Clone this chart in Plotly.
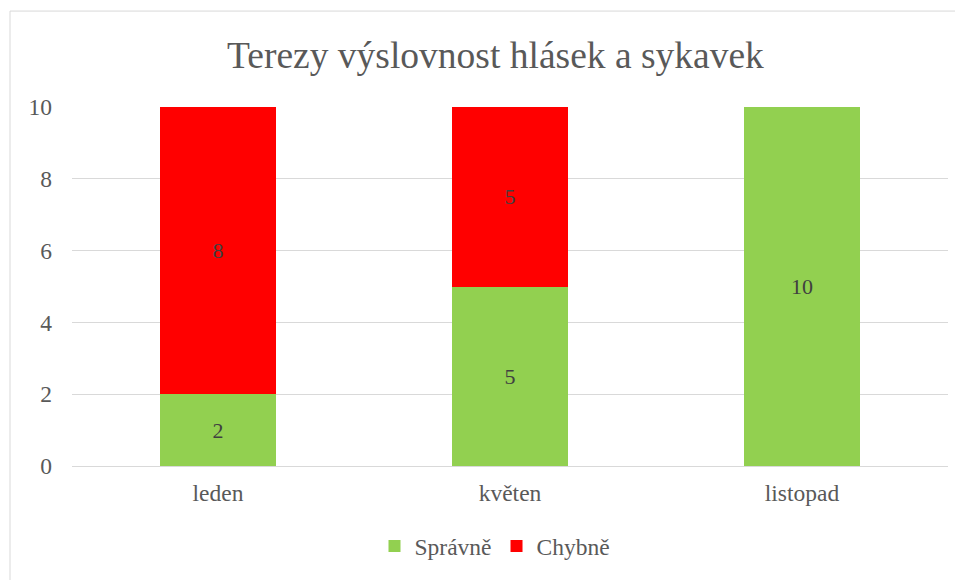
import plotly.graph_objects as go

categories = ["leden", "květen", "listopad"]
spravne = [2, 5, 10]
chybne = [8, 5, 0]
series_names = ["Správně", "Chybně"]
title_text = "Terezy výslovnost hlásek a sykavek"

OFF = 8  # page body margin
W, H = 963 - OFF, 580 - OFF
L, R, T, B = 72 - OFF, 15, 107 - OFF, 110
pw, ph = W - L - R, H - T - B

def px_x(x):
    return (x - OFF - L) / pw

def px_y(y):
    return (H - B - (y - OFF)) / ph

font_family = "Liberation Serif"
FS = 23.5

fig = go.Figure()
fig.add_trace(go.Bar(
    x=categories, y=spravne, name=series_names[0],
    marker=dict(color="#92D050", line=dict(width=0)),
    text=[str(v) if v else "" for v in spravne], textposition="inside",
    insidetextanchor="middle",
    textfont=dict(family=font_family, size=22, color="#404040"),
))
fig.add_trace(go.Bar(
    x=categories, y=chybne, name=series_names[1],
    marker=dict(color="#FF0000", line=dict(width=0)),
    text=[str(v) if v else "" for v in chybne], textposition="inside",
    insidetextanchor="middle",
    textfont=dict(family=font_family, size=22, color="#404040"),
))

fig.update_layout(
    width=W, height=H,
    margin=dict(l=L, r=R, t=T, b=B),
    barmode="stack", bargap=0.6,
    paper_bgcolor="white", plot_bgcolor="white",
    font=dict(family=font_family, size=FS, color="#595959"),
    uniformtext=dict(mode="show", minsize=10),
    showlegend=True,
    legend=dict(orientation="h", x=px_x(495), xanchor="center",
                y=px_y(551), yanchor="middle",
                font=dict(family=font_family, size=FS, color="#595959"),
                traceorder="normal", itemwidth=30),
    xaxis=dict(showgrid=False, showline=True, linecolor="#d9d9d9", linewidth=1,
               ticks="", ticklabelstandoff=6,
               tickfont=dict(family=font_family, size=FS, color="#595959")),
    yaxis=dict(range=[0, 10], dtick=2, showgrid=True, gridcolor="#d9d9d9",
               gridwidth=1, zeroline=False, showline=False, ticks="",
               ticklabelstandoff=19,
               tickfont=dict(family=font_family, size=FS, color="#595959")),
    annotations=[dict(text=title_text, xref="paper", yref="paper",
                      x=px_x(495), y=px_y(55), xanchor="center", yanchor="middle",
                      showarrow=False,
                      font=dict(family=font_family, size=37.5, color="#595959"))],
    shapes=[dict(type="rect", xref="paper", yref="paper",
                 x0=px_x(10), x1=px_x(990), y0=px_y(600), y1=px_y(10),
                 line=dict(color="#d9d9d9", width=1), fillcolor="rgba(0,0,0,0)",
                 layer="below")],
)

fig.write_html("out.html")
